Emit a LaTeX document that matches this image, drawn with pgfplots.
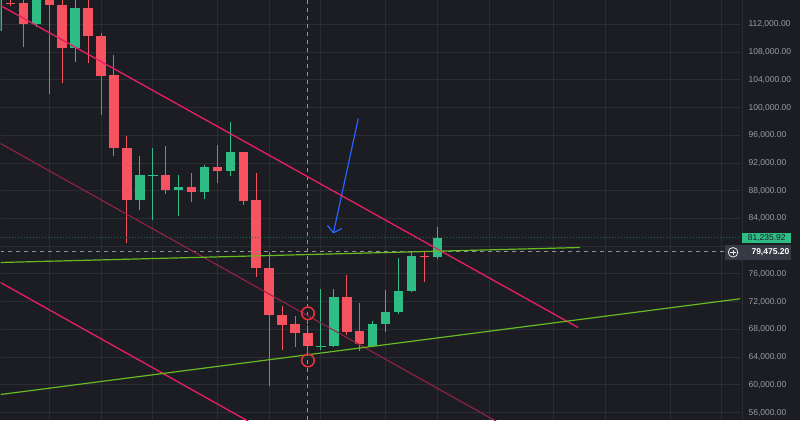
\documentclass[border=0pt]{standalone}
\usepackage{pgfplots}
\pgfplotsset{compat=1.18}
\usepackage{pgfplotstable}
\usetikzlibrary{arrows.meta}
\usepackage{fontspec}
\setmainfont{Liberation Sans}
\definecolor{bg}{HTML}{1C1D22}
\definecolor{gridc}{HTML}{2A2D35}
\definecolor{up}{HTML}{2EBD85}
\definecolor{down}{HTML}{F7525F}
\definecolor{pinkl}{HTML}{E91E63}
\definecolor{pinkd}{HTML}{9E2148}
\definecolor{lime}{HTML}{66BB22}
\definecolor{arrowb}{HTML}{2962FF}
\definecolor{tickc}{HTML}{9A9DA6}
\definecolor{crossc}{HTML}{8F939C}
\definecolor{dotg}{HTML}{1E6A4E}
\definecolor{lblbg}{HTML}{363A45}
\definecolor{circr}{HTML}{E8313F}

\pgfplotstableread{
x o h l c
0 115080 115500 114600 114940
1 115170 115500 108680 112000
3 115700 116500 101906 114880
4 114880 115600 103490 108540
6 114450 115500 106380 110410
7 110410 110700 98880 104500
8 104650 107530 92970 94120
9 94120 95850 80420 86620
12 90230 94410 87490 88060
14 88500 90510 86330 87770
16 91380 94550 89070 90800
18 93540 93600 85900 86480
19 86620 90510 75520 76820
20 76820 79120 59800 70040
21 70040 71340 64990 68600
22 68740 69890 65420 67440
23 67440 68600 64700 65570
26 72630 75810 67150 67590
27 67730 71770 64850 65860
32 78620 79120 74800 78480
}\redtab

\pgfplotstableread{
x o h l c
-1 110990 117500 110800 116900
2 112000 116500 111570 115700
5 108540 115600 106520 114450
10 86620 92970 85180 90230
11 90180 94120 83740 90300
13 88060 90230 84310 88500
15 87770 91670 86770 91380
17 90800 97870 90080 93540
24 65520 73790 64990 65680
25 65570 73790 65500 72630
28 65570 69170 65500 68740
29 68740 73640 67590 70470
30 70470 78260 70180 73500
31 73500 79120 73400 78550
33 78400 82730 78110 81235.92
}\greentab

\begin{document}
\begin{tikzpicture}
\fill[bg] (0,0) rectangle (800pt,420pt);
\begin{axis}[
  at={(0,0)}, anchor=south west,
  scale only axis, width=740pt, height=420pt,
  xmin=-0.773, xmax=56.41, ymin=54897, ymax=115461,
  axis line style={draw=none},
  tick style={draw=none},
  xtick={3,7,11,16,20,24,29,33,37,42,46,51,55},
  xticklabels={},
  ytick={56000,60000,64000,68000,72000,76000,80000,84000,88000,92000,96000,100000,104000,108000,112000},
  yticklabels={{56,000.00},{60,000.00},{64,000.00},{68,000.00},{72,000.00},{76,000.00},{},{84,000.00},{88,000.00},{92,000.00},{96,000.00},{100,000.00},{104,000.00},{108,000.00},{112,000.00}},
  scaled y ticks=false,
  yticklabel pos=right,
  grid=major,
  major grid style={gridc, line width=1pt},
  y tick label style={font=\fontsize{8.5}{10}\selectfont, text=tickc, anchor=west, xshift=5pt},
]
% wicks
\addplot[draw=none, no markers, error bars/.cd, y dir=plus, y explicit, error mark=none,
  error bar style={draw=down, line width=1pt}]
  table[x=x, y=l, y error plus expr=\thisrow{h}-\thisrow{l}] {\redtab};
\addplot[draw=none, no markers, error bars/.cd, y dir=plus, y explicit, error mark=none,
  error bar style={draw=up, line width=1pt}]
  table[x=x, y=l, y error plus expr=\thisrow{h}-\thisrow{l}] {\greentab};
% bodies
\addplot[draw=none, no markers, error bars/.cd, y dir=plus, y explicit, error mark=none,
  error bar style={draw=down, line width=9.5pt}]
  table[x=x, y=c, y error plus expr=\thisrow{o}-\thisrow{c}] {\redtab};
\addplot[draw=none, no markers, error bars/.cd, y dir=plus, y explicit, error mark=none,
  error bar style={draw=up, line width=9.5pt}]
  table[x=x, y=o, y error plus expr=\thisrow{c}-\thisrow{o}] {\greentab};
% dotted price line and crosshair
\addplot[dotg, line width=1pt, dotted] coordinates {(-0.773,81235.92) (56.41,81235.92)};
\addplot[crossc, line width=1pt, dash pattern=on 4pt off 4pt] coordinates {(-0.773,79200) (55.26,79200)};
\addplot[crossc, line width=1pt, dash pattern=on 4pt off 4pt] coordinates {(23,54897) (23,115461)};
% trend lines
\addplot[pinkl, line width=1.3pt] coordinates {(-0.773,114742) (43.89,68277)};
\addplot[pinkd, line width=1pt] coordinates {(-0.773,94828) (37.87,54424)};
\addplot[pinkl, line width=1.3pt] coordinates {(-0.773,74771) (19.32,53775)};
\addplot[lime, line width=1.2pt] coordinates {(-0.773,77657) (44.05,79821)};
\addplot[lime, line width=1.2pt] coordinates {(-0.773,58609) (56.57,72462)};
% annotations
\draw[arrowb, line width=1.2pt, -{Straight Barb[length=6pt,width=15pt]}] (axis cs:26.89,98436) -- (axis cs:24.96,81841);
\draw[circr, line width=1.5pt] (axis cs:23,70326) circle[radius=6.3pt];
\draw[circr, line width=1.5pt] (axis cs:23,63515) circle[radius=6.3pt];
\coordinate (pl) at (axis cs:56.41,81235.92);
\coordinate (cr) at (axis cs:56.41,79200);
\end{axis}
\draw[gridc, line width=1pt] (742pt,0) -- (742pt,420pt);
\node[fill=up, text=bg, anchor=west, minimum width=49pt, minimum height=10pt, inner sep=0pt,
  font=\fontsize{8.5}{9}\selectfont] at ([xshift=2pt]pl) {81,235.92};
\node[fill=lblbg, text=white, anchor=east, text width=63pt, align=right, minimum height=14.5pt,
  inner xsep=1.5pt, inner ysep=0pt, font=\fontsize{8.5}{9}\selectfont\bfseries] at ([xshift=51pt,yshift=-0.5pt]cr) {79,475.20};
\draw[white!85!gray, line width=0.8pt] ([xshift=-7pt,yshift=-0.5pt]cr) circle[radius=4.8pt];
\draw[white!85!gray, line width=0.8pt] ([xshift=-9.6pt,yshift=-0.5pt]cr) -- ([xshift=-4.4pt,yshift=-0.5pt]cr) ([xshift=-7pt,yshift=-3.1pt]cr) -- ([xshift=-7pt,yshift=2.1pt]cr);
\end{tikzpicture}
\end{document}
